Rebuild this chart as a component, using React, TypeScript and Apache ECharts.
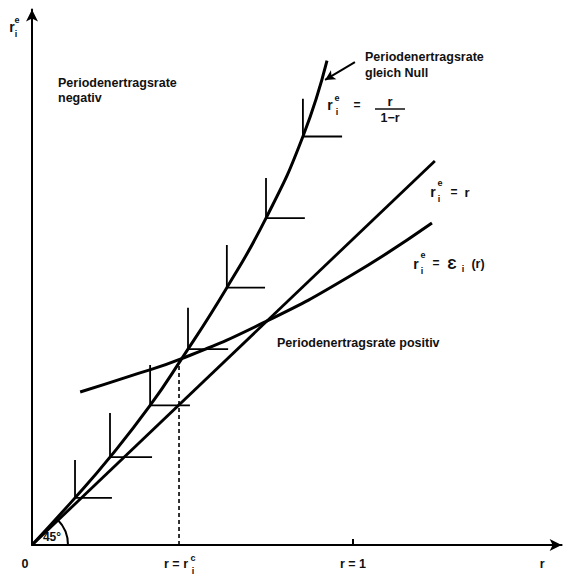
import React, { useEffect, useRef } from "react";
import * as echarts from "echarts";

// r (x) and r_i^e (y) values (schematic units, r = 1 at the tick)
const CURVE_R = [0, 0.134, 0.243, 0.368, 0.464, 0.607, 0.729, 0.844, 0.919];
const CURVE_RE = [0, 0.154, 0.287, 0.456, 0.605, 0.841, 1.068, 1.335, 1.583];

const EPS_R = [0.15, 0.305, 0.464, 0.726, 0.991, 1.246];
const EPS_RE = [0.5, 0.552, 0.608, 0.729, 0.879, 1.052];

const DIAG_R = [0, 1.255];

// staircase "L" marks on the r/(1-r) curve
const STEP_R = [0.134, 0.243, 0.368, 0.486, 0.607, 0.729, 0.844];
const STEP_RE = [0.154, 0.287, 0.456, 0.64, 0.841, 1.068, 1.335];
const STEP_TOP = [0.278, 0.431, 0.588, 0.775, 0.98, 1.199, 1.458];
const STEP_RIGHT = [0.249, 0.374, 0.492, 0.611, 0.726, 0.85, 0.966];

const RC = 0.458;
const RC_TOP = 0.607;

const ARROW_FROM = [1.006, 1.578];
const ARROW_TO = [0.913, 1.52];

const X_LABEL_VALUES = [0, RC, 1, 1.589];
const X_LABEL_TEXTS = ["0", "r = r", "r = 1", "r"];

const XMAX = 1.65;
const YMAX = 1.75;

const FONT = '"Liberation Sans", Arial, sans-serif';
const INK = "#111";

function txt(text: string, x: number, y: number, size = 12.5, align = "left") {
  return {
    type: "text",
    x,
    y,
    silent: true,
    style: {
      text,
      fontSize: size,
      fontWeight: "bold",
      fontFamily: FONT,
      fill: INK,
      align,
      verticalAlign: "middle",
    },
  };
}

export default function App() {
  const ref = useRef<HTMLDivElement>(null);
  useEffect(() => {
    if (!ref.current) return;
    const chart = echarts.init(ref.current, null, { renderer: "svg" });
    const black = "#000";
    const stepSeries = STEP_R.map((r, i) => ({
      type: "line",
      symbol: "none",
      silent: true,
      data: [
        [r, STEP_TOP[i]],
        [r, STEP_RE[i]],
        [STEP_RIGHT[i], STEP_RE[i]],
      ],
      lineStyle: { color: black, width: 1.8 },
    }));

    const option: any = {
      animation: false,
      backgroundColor: "#fff",
      grid: { left: 32, top: 9.5, width: XMAX * 321, height: YMAX * 306, containLabel: false },
      xAxis: {
        type: "value",
        min: 0,
        max: XMAX,
        axisLine: {
          show: true,
          symbol: ["none", "arrow"],
          symbolSize: [9, 12],
          lineStyle: { color: black, width: 2 },
        },
        axisTick: {
          show: true,
          inside: true,
          length: 6,
          customValues: [1],
          lineStyle: { color: black, width: 2 },
        },
        axisLabel: {
          show: true,
          customValues: X_LABEL_VALUES,
          margin: 12,
          formatter: (v: number) => {
            const i = X_LABEL_VALUES.findIndex((c) => Math.abs(c - v) < 1e-6);
            if (i === 0) return "{z|0}";
            if (i === 1) return "{a|r = r}{s| }";
            return "{a|" + (i >= 0 ? X_LABEL_TEXTS[i] : "") + "}";
          },
          rich: {
            z: { fontSize: 12.5, fontWeight: "bold", fontFamily: FONT, color: INK, padding: [0, 14, 0, 0] },
            a: { fontSize: 12.5, fontWeight: "bold", fontFamily: FONT, color: INK },
            s: { fontSize: 12.5, width: 6 },
          },
        },
        splitLine: { show: false },
      },
      yAxis: {
        type: "value",
        min: 0,
        max: YMAX,
        axisLine: {
          show: true,
          symbol: ["none", "arrow"],
          symbolSize: [9, 12],
          lineStyle: { color: black, width: 2 },
        },
        axisTick: { show: false },
        axisLabel: { show: false },
        splitLine: { show: false },
      },
      series: [
        {
          type: "line",
          symbol: "none",
          silent: true,
          smooth: 0.5,
          data: CURVE_R.map((r, i) => [r, CURVE_RE[i]]),
          lineStyle: { color: black, width: 3 },
        },
        {
          type: "line",
          symbol: "none",
          silent: true,
          smooth: 0.5,
          data: EPS_R.map((r, i) => [r, EPS_RE[i]]),
          lineStyle: { color: black, width: 3 },
        },
        {
          type: "line",
          symbol: "none",
          silent: true,
          data: DIAG_R.map((r) => [r, r]),
          lineStyle: { color: black, width: 2.8 },
          markLine: {
            silent: true,
            symbol: ["none", "arrow"],
            symbolSize: [8, 10],
            label: { show: false },
            lineStyle: { color: black, width: 2, type: "solid" },
            data: [[{ coord: ARROW_FROM }, { coord: ARROW_TO }]],
          },
        },
        {
          type: "line",
          symbol: "none",
          silent: true,
          data: [
            [RC, 0],
            [RC, RC_TOP],
          ],
          lineStyle: { color: black, width: 1.6, type: [4, 3] },
        },
        ...stepSeries,
        {
          type: "custom",
          silent: true,
          data: [[0, 0]],
          renderItem: (_p: any, api: any) => {
            const c = api.coord([0, 0]);
            return {
              type: "arc",
              shape: { cx: c[0], cy: c[1], r: 36, startAngle: -Math.PI / 4, endAngle: 0, clockwise: true },
              style: { stroke: black, lineWidth: 2, fill: "none" },
            };
          },
        },
      ],
      graphic: [
        // y axis name r_i^e
        txt("r", 12, 27, 14, "center"),
        txt("e", 17, 20, 9, "center"),
        txt("i", 16, 34, 9, "center"),
        // region labels
        txt("Periodenertragsrate", 58, 83),
        txt("negativ", 58, 98),
        txt("Periodenertragsrate", 365, 57),
        txt("gleich Null", 365, 73),
        txt("Periodenertragsrate positiv", 277, 343),
        // r_i^e = r/(1-r)
        txt("r", 330, 105, 14, "center"),
        txt("e", 337, 98, 9, "center"),
        txt("i", 337, 112, 9, "center"),
        txt("=", 357, 105, 12, "center"),
        txt("r", 390, 101, 13, "center"),
        {
          type: "line",
          silent: true,
          shape: { x1: 375, y1: 109, x2: 405, y2: 109 },
          style: { stroke: INK, lineWidth: 1.5 },
        },
        txt("1\u2212r", 390, 118, 12.5, "center"),
        // r_i^e = r
        txt("r", 433, 192, 14, "center"),
        txt("e", 440, 183, 9, "center"),
        txt("i", 439, 199, 9, "center"),
        txt("=", 454, 192, 12, "center"),
        txt("r", 467, 192, 13, "center"),
        // r_i^e = E_i (r)
        txt("r", 416, 264, 14, "center"),
        txt("e", 423, 255, 9, "center"),
        txt("i", 422, 271, 9, "center"),
        txt("=", 436, 263, 12, "center"),
        txt("\u0190", 452, 263, 15, "center"),
        txt("i", 463, 269, 9, "center"),
        txt("(r)", 478, 264, 12.5, "center"),
        // 45 degree
        txt("45\u00b0", 52, 537, 12, "center"),
        // r = r_i^c super/subscripts
        txt("c", 193, 558, 9, "center"),
        txt("i", 193, 571, 9, "center"),
      ],
    };
    chart.setOption(option);
    return () => chart.dispose();
  }, []);
  return (
    <div
      ref={ref}
      style={{ position: "fixed", left: 0, top: 0, width: 568, height: 578, background: "#fff" }}
    />
  );
}
